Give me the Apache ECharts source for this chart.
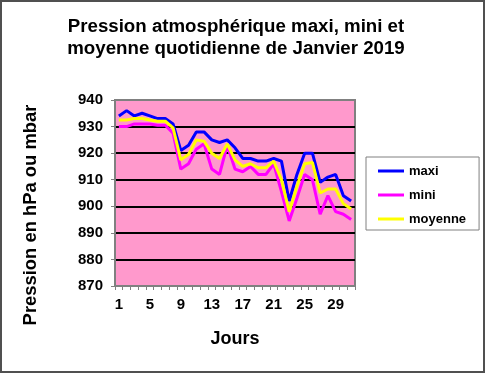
<!DOCTYPE html>
<html>
<head>
<meta charset="utf-8">
<script src="https://cdn.jsdelivr.net/npm/echarts@6/dist/echarts.min.js"></script>
<style>
html,body{margin:0;padding:0;background:#fff;}
#chart{width:486px;height:373px;}
</style>
</head>
<body>
<div id="chart"></div>
<script>
const days = ['1','2','3','4','5','6','7','8','9','10','11','12','13','14','15','16','17','18','19','20','21','22','23','24','25','26','27','28','29','30','31'];
const maxi = [934, 936, 934, 935, 934, 933, 933, 931, 921, 923, 928, 928, 925, 924, 925, 922, 918, 918, 917, 917, 918, 917, 902, 912, 920, 920, 909, 911, 912, 904, 902];
const mini = [930, 930, 931, 931, 931, 930.5, 930.5, 927.5, 914, 916, 921.5, 923.5, 914, 912, 923, 914, 913, 915, 912, 912, 916, 905.5, 894.5, 903, 912, 910, 897, 904, 898, 897, 895];
const moyenne = [932.5, 932.5, 933, 933, 932.5, 932, 932, 929.5, 917.5, 919.5, 925, 924.5, 920, 918, 923.5, 917.5, 915, 916, 914.5, 914.5, 917, 910, 898, 907.5, 916, 916.5, 905, 906.5, 906.5, 901, 899];
const seriesNames = ['maxi', 'mini', 'moyenne'];
const titleText = 'Pression atmosphérique maxi, mini et\nmoyenne quotidienne de Janvier 2019';
const yTitle = 'Pression en hPa ou mbar';
const xTitle = 'Jours';

const font = 'Arial, "Liberation Sans", sans-serif';
const chart = echarts.init(document.getElementById('chart'), null, {renderer: 'canvas'});
chart.setOption({
  animation: false,
  backgroundColor: '#ffffff',
  textStyle: {fontFamily: font},
  title: {
    text: titleText,
    left: 231,
    top: 11,
    textAlign: 'center',
    padding: 5,
    textStyle: {fontFamily: font, fontSize: 18.7, fontWeight: 'bold', color: '#000', lineHeight: 22}
  },
  graphic: [{
    type: 'rect',
    silent: true,
    shape: {x: 1, y: 1, width: 483, height: 371},
    style: {fill: 'none', stroke: '#505050', lineWidth: 2}
  }],
  legend: {
    orient: 'vertical',
    left: 366,
    top: 157,
    padding: [6, 13, 3, 12],
    itemGap: 8,
    itemWidth: 26,
    itemHeight: 3,
    icon: 'rect',
    borderColor: '#808080',
    borderWidth: 1,
    backgroundColor: '#fff',
    textStyle: {fontFamily: font, fontSize: 13, fontWeight: 'bold', color: '#000', lineHeight: 16},
    data: seriesNames
  },
  grid: {
    left: 115, right: 131, top: 100, bottom: 87,
    show: true,
    backgroundColor: '#FF99CC',
    borderColor: '#808080',
    borderWidth: 2
  },
  xAxis: {
    type: 'category',
    data: days,
    boundaryGap: true,
    name: xTitle,
    nameLocation: 'middle',
    nameGap: 44,
    nameTextStyle: {fontFamily: font, fontSize: 18, fontWeight: 'bold', color: '#000'},
    axisLine: {lineStyle: {color: '#808080', width: 2}},
    axisTick: {show: true, interval: 0, length: 4, lineStyle: {color: '#808080', width: 1}},
    axisLabel: {interval: 3, margin: 11, fontFamily: font, fontSize: 15, fontWeight: 'bold', color: '#000'},
    splitLine: {show: false}
  },
  yAxis: {
    type: 'value',
    min: 870,
    max: 940,
    interval: 10,
    name: yTitle,
    nameLocation: 'middle',
    nameRotate: 90,
    nameGap: 75,
    nameTextStyle: {fontFamily: font, fontSize: 18.4, fontWeight: 'bold', color: '#000', padding: [0, 44, 0, 0]},
    axisLine: {show: true, lineStyle: {color: '#808080', width: 2}},
    axisTick: {show: true, length: 4, lineStyle: {color: '#808080', width: 1}},
    axisLabel: {margin: 12, fontFamily: font, fontSize: 15, fontWeight: 'bold', color: '#000'},
    splitLine: {show: true, lineStyle: {color: ['#808080', '#000', '#000', '#000', '#000', '#000', '#000', '#808080'], width: 2}}
  },
  series: [
    {name: seriesNames[0], type: 'line', data: maxi, showSymbol: false, symbol: 'none', lineStyle: {color: '#0000FF', width: 3}, itemStyle: {color: '#0000FF'}},
    {name: seriesNames[1], type: 'line', data: mini, showSymbol: false, symbol: 'none', lineStyle: {color: '#FF00FF', width: 3}, itemStyle: {color: '#FF00FF'}},
    {name: seriesNames[2], type: 'line', data: moyenne, showSymbol: false, symbol: 'none', lineStyle: {color: '#FFFF00', width: 3}, itemStyle: {color: '#FFFF00'}}
  ]
});
</script>
</body>
</html>
